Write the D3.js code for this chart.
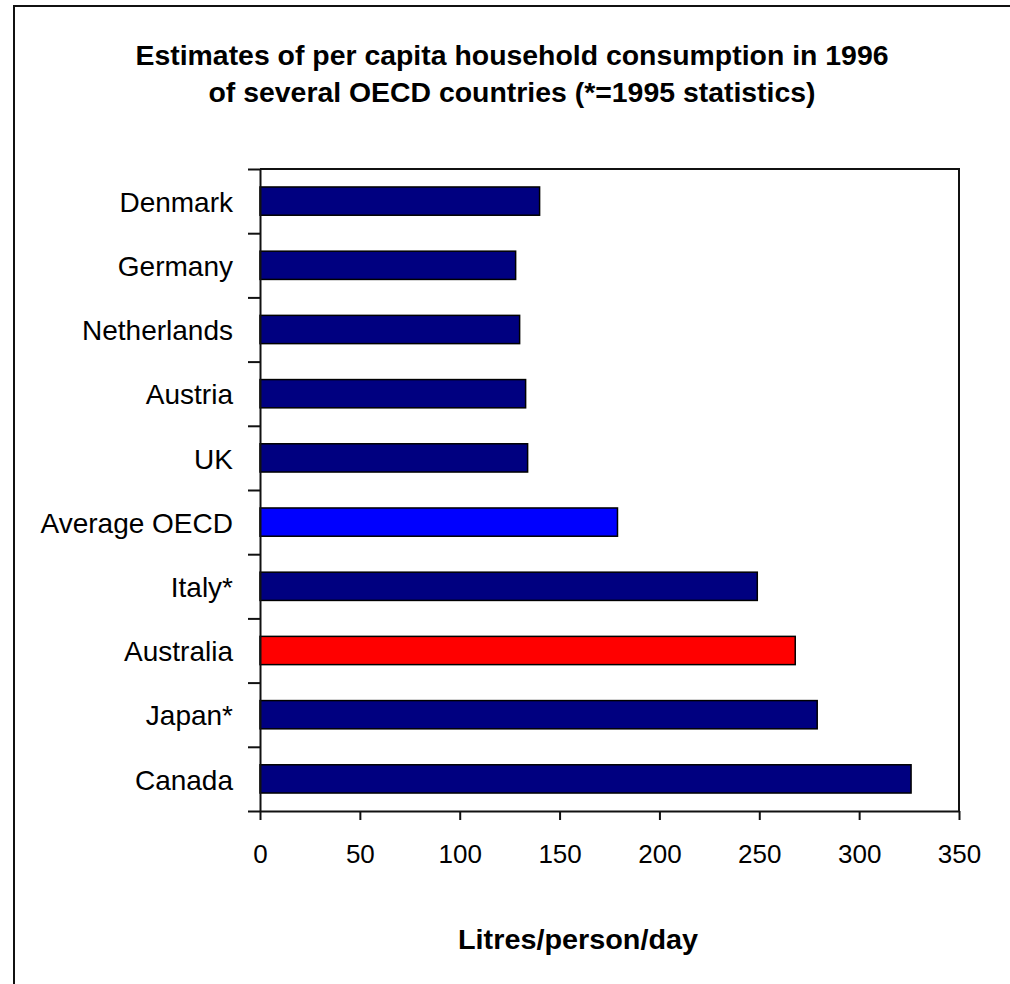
<!DOCTYPE html>
<html>
<head>
<meta charset="utf-8">
<script src="https://cdn.jsdelivr.net/npm/d3@7"></script>
<style>
  body { margin: 0; background: #fff; }
  text { font-family: "Liberation Sans", Arial, sans-serif; fill: #000; }
</style>
</head>
<body>
<div id="container"></div>
<script>
// chart data
const countries = ["Denmark", "Germany", "Netherlands", "Austria", "UK",
  "Average OECD", "Italy*", "Australia", "Japan*", "Canada"];
const litres = [140, 128, 130, 133, 134, 179, 249, 268, 279, 326];
const barColors = ["#000080", "#000080", "#000080", "#000080", "#000080",
  "#0000ff", "#000080", "#ff0000", "#000080", "#000080"];
const xTicks = [0, 50, 100, 150, 200, 250, 300, 350];
const titleLines = ["Estimates of per capita household consumption in 1996",
  "of several OECD countries (*=1995 statistics)"];
const xTitle = "Litres/person/day";

const W = 1010, H = 984;
const plot = {left: 260, right: 959, top: 169, bottom: 811};

const data = countries.map((c, i) => ({name: c, value: litres[i], color: barColors[i]}));

const svg = d3.select("#container")
  .append("svg")
    .attr("width", W)
    .attr("height", H);

// outer frame (runs off right/bottom edge like the source)
svg.append("rect")
  .attr("x", 14).attr("y", 6)
  .attr("width", W + 20).attr("height", H + 20)
  .attr("fill", "none")
  .attr("stroke", "#111")
  .attr("stroke-width", 2);

// title
svg.selectAll(".title")
  .data(titleLines)
  .join("text")
    .attr("class", "title")
    .attr("x", 512)
    .attr("y", (d, i) => 65 + i * 37)
    .attr("text-anchor", "middle")
    .style("font-size", "27px")
    .style("font-weight", "bold")
    .attr("textLength", (d, i) => i === 0 ? 753 : 607)
    .attr("lengthAdjust", "spacingAndGlyphs")
    .text(d => d);

const x = d3.scaleLinear()
  .domain([0, 350])
  .range([plot.left, plot.right]);

const y = d3.scaleBand()
  .domain(countries)
  .range([plot.top, plot.bottom])
  .paddingInner(0.56)
  .paddingOuter(0.28);

// index scale for the tick marks between categories
const yIdx = d3.scaleLinear()
  .domain([0, countries.length])
  .range([plot.top, plot.bottom]);

// frame top + right
svg.append("path")
  .attr("d", `M${plot.left},${plot.top}H${plot.right}V${plot.bottom}`)
  .attr("fill", "none")
  .attr("stroke", "#111")
  .attr("stroke-width", 2);

// bars
svg.selectAll(".bar")
  .data(data)
  .join("rect")
    .attr("class", "bar")
    .attr("x", x(0))
    .attr("y", d => y(d.name))
    .attr("width", d => x(d.value) - x(0))
    .attr("height", y.bandwidth())
    .attr("fill", d => d.color)
    .attr("stroke", "#000")
    .attr("stroke-width", 1.5);

// x axis
const xAxis = svg.append("g")
  .attr("transform", `translate(0,${plot.bottom})`)
  .call(d3.axisBottom(x).tickValues(xTicks).tickSize(9).tickSizeOuter(0));
xAxis.select(".domain").attr("stroke", "#111").attr("stroke-width", 2);
xAxis.selectAll("line").attr("stroke", "#111").attr("stroke-width", 2);
xAxis.selectAll("text")
  .attr("y", 52).attr("dy", null)
  .style("font-size", "26px")
  .attr("fill", "#000");

// y axis tick marks
const yAxis = svg.append("g")
  .attr("transform", `translate(${plot.left},0)`)
  .call(d3.axisLeft(yIdx).ticks(countries.length).tickSize(12).tickSizeOuter(0).tickFormat(""));
yAxis.select(".domain").attr("stroke", "#111").attr("stroke-width", 2);
yAxis.selectAll("line").attr("stroke", "#111").attr("stroke-width", 2);

// category labels
svg.selectAll(".cat")
  .data(data)
  .join("text")
    .attr("class", "cat")
    .attr("x", 233)
    .attr("y", d => y(d.name) + y.bandwidth() / 2)
    .attr("dy", "0.38em")
    .attr("text-anchor", "end")
    .style("font-size", "28px")
    .text(d => d.name);

// x axis title
svg.append("text")
  .attr("x", 578)
  .attr("y", 949)
  .attr("text-anchor", "middle")
  .style("font-size", "27px")
  .style("font-weight", "bold")
  .attr("textLength", 240)
  .attr("lengthAdjust", "spacingAndGlyphs")
  .text(xTitle);
</script>
</body>
</html>
